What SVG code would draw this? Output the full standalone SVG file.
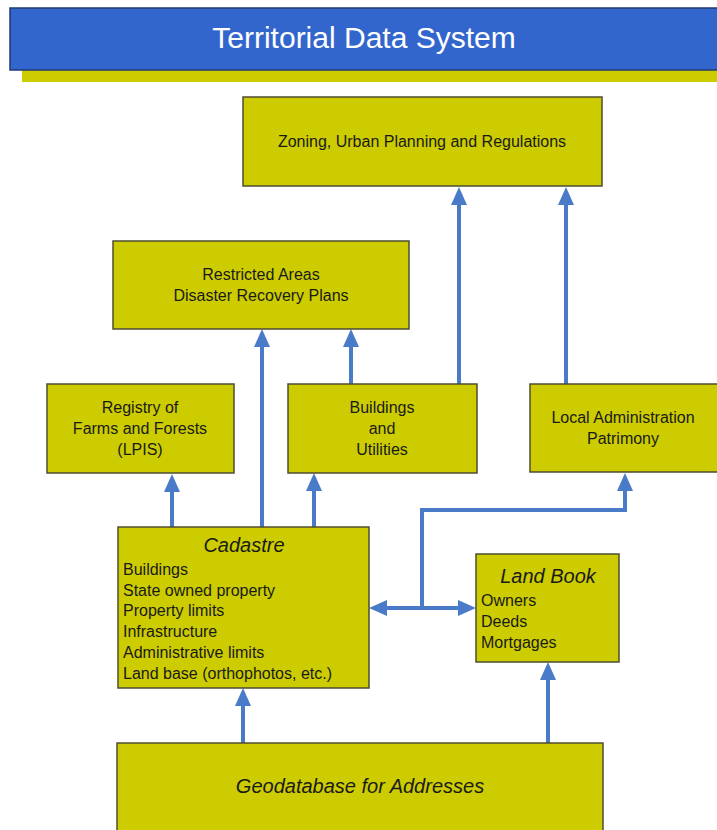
<svg xmlns="http://www.w3.org/2000/svg" width="717" height="830" viewBox="0 0 717 830">
<style>
.box{fill:#cccc00;stroke:#4d4d33;stroke-width:1.5}
.t{font-family:"Liberation Sans",Arial,sans-serif;font-size:16px;fill:#1a1a1a}
.c{text-anchor:middle}
.i{font-style:italic;font-size:20px}
.con{stroke:#4a7bc9;stroke-width:4;fill:none}
</style>
<defs>
<marker id="ah" markerUnits="userSpaceOnUse" markerWidth="18" markerHeight="16" refX="0" refY="8" orient="auto-start-reverse">
<path d="M0,0 L18,8 L0,16 z" fill="#4a7bc9"/>
</marker>
</defs>
<rect width="717" height="830" fill="#ffffff"/>
<g id="title">
<rect x="22" y="70" width="700" height="12" fill="#cccc00"/>
<rect x="10" y="8" width="712" height="62" fill="#3366cc" stroke="#1f3a73" stroke-width="1.5"/>
<text x="364" y="48" class="t c" style="font-size:30px;fill:#ffffff">Territorial Data System</text>
</g>
<g id="connectors">
<line class="con" x1="172" y1="527" x2="172" y2="492" marker-end="url(#ah)"/>
<line class="con" x1="262" y1="527" x2="262" y2="347" marker-end="url(#ah)"/>
<line class="con" x1="314" y1="527" x2="314" y2="491" marker-end="url(#ah)"/>
<line class="con" x1="351" y1="384" x2="351" y2="347" marker-end="url(#ah)"/>
<line class="con" x1="459" y1="384" x2="459" y2="205" marker-end="url(#ah)"/>
<line class="con" x1="566" y1="384" x2="566" y2="205" marker-end="url(#ah)"/>
<line class="con" x1="387" y1="608" x2="458" y2="608" marker-start="url(#ah)" marker-end="url(#ah)"/>
<path class="con" d="M422,608 V510 H625 V491" marker-end="url(#ah)"/>
<line class="con" x1="243" y1="743" x2="243" y2="706" marker-end="url(#ah)"/>
<line class="con" x1="548" y1="743" x2="548" y2="680" marker-end="url(#ah)"/>
</g>
<g id="zoning">
<rect class="box" x="243" y="97" width="359" height="89"/>
<text x="422" y="147" class="t c">Zoning, Urban Planning and Regulations</text>
</g>
<g id="restricted">
<rect class="box" x="113" y="241" width="296" height="88"/>
<text x="261" y="280" class="t c">Restricted Areas</text>
<text x="261" y="301" class="t c">Disaster Recovery Plans</text>
</g>
<g id="registry">
<rect class="box" x="47" y="384" width="187" height="89"/>
<text x="140" y="413" class="t c">Registry of</text>
<text x="140" y="434" class="t c">Farms and Forests</text>
<text x="140" y="455" class="t c">(LPIS)</text>
</g>
<g id="buildings">
<rect class="box" x="288" y="384" width="189" height="89"/>
<text x="382" y="413" class="t c">Buildings</text>
<text x="382" y="434" class="t c">and</text>
<text x="382" y="455" class="t c">Utilities</text>
</g>
<g id="localadmin">
<rect class="box" x="530" y="384" width="195" height="88"/>
<text x="623" y="423" class="t c">Local Administration</text>
<text x="623" y="444" class="t c">Patrimony</text>
</g>
<g id="cadastre">
<rect class="box" x="118" y="527" width="251" height="161"/>
<text x="244" y="552" class="t c i">Cadastre</text>
<text x="123" y="575" class="t">Buildings</text>
<text x="123" y="596" class="t">State owned property</text>
<text x="123" y="616" class="t">Property limits</text>
<text x="123" y="637" class="t">Infrastructure</text>
<text x="123" y="658" class="t">Administrative limits</text>
<text x="123" y="679" class="t">Land base (orthophotos, etc.)</text>
</g>
<g id="landbook">
<rect class="box" x="476" y="554" width="143" height="108"/>
<text x="548" y="583" class="t c i">Land Book</text>
<text x="481" y="606" class="t">Owners</text>
<text x="481" y="627" class="t">Deeds</text>
<text x="481" y="648" class="t">Mortgages</text>
</g>
<g id="geodatabase">
<rect class="box" x="117" y="743" width="486" height="100"/>
<text x="360" y="793" class="t c i">Geodatabase for Addresses</text>
</g>
</svg>
